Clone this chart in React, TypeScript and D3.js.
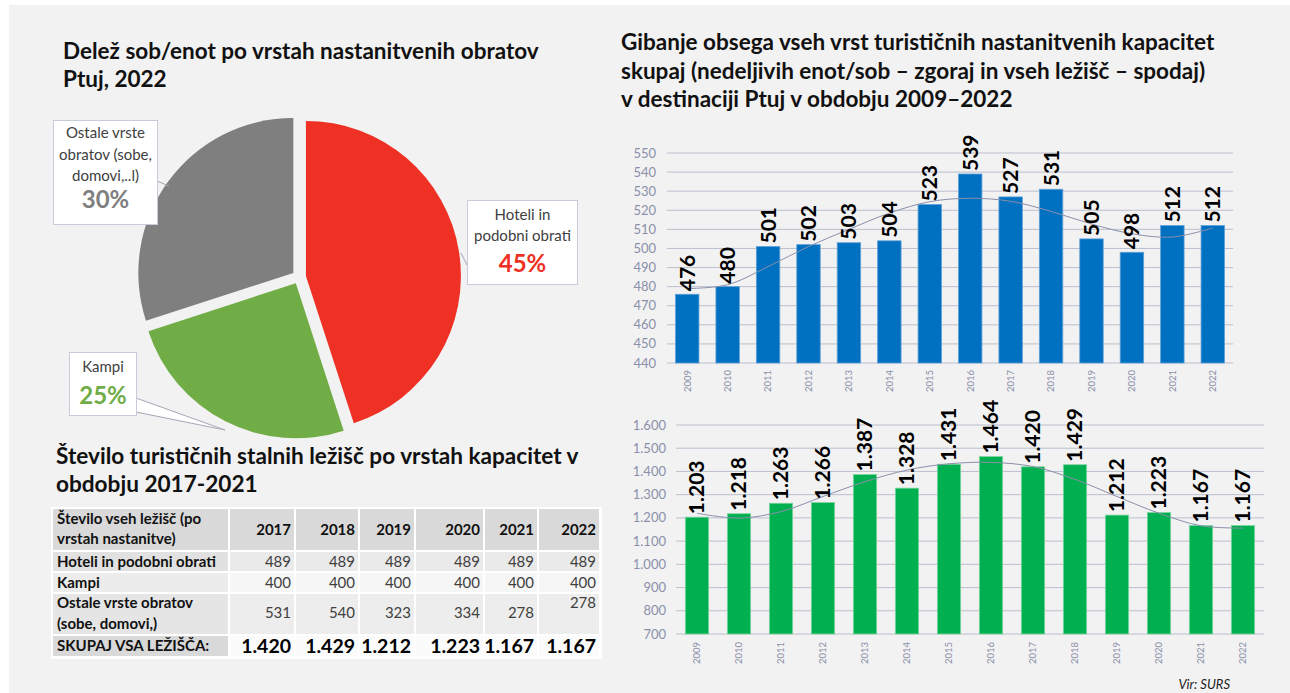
import React from "react";
import * as d3 from "d3";

// ---------- DATA ----------
const pieCategories = ["Hoteli in podobni obrati", "Kampi", "Ostale vrste obratov (sobe, domovi,..l)"];
const pieShares = [45, 25, 30];
const pieColors = ["#ee3124", "#70ad47", "#7f7f7f"];

const years = ["2009", "2010", "2011", "2012", "2013", "2014", "2015", "2016", "2017", "2018", "2019", "2020", "2021", "2022"];
const unitsValues = [476, 480, 501, 502, 503, 504, 523, 539, 527, 531, 505, 498, 512, 512];
const unitsTrend = [479, 481, 490.5, 501, 510, 518.5, 524.5, 526.3, 524.7, 519.4, 512.8, 507.7, 506, 510.7];
const unitsTicks = [440, 450, 460, 470, 480, 490, 500, 510, 520, 530, 540, 550];

const bedsValues = [1203, 1218, 1263, 1266, 1387, 1328, 1431, 1464, 1420, 1429, 1212, 1223, 1167, 1167];
const bedsTrend = [1220, 1199, 1227, 1292, 1356, 1406, 1433, 1439, 1421, 1366, 1292, 1220, 1166, 1156];
const bedsTicks = [700, 800, 900, 1000, 1100, 1200, 1300, 1400, 1500, 1600];

const tableYears = ["2017", "2018", "2019", "2020", "2021", "2022"];
const tableHeader = ["Število vseh ležišč  (po", "vrstah nastanitve)"];
const hotelBeds = [489, 489, 489, 489, 489, 489];
const campBeds = [400, 400, 400, 400, 400, 400];
const otherBeds = [531, 540, 323, 334, 278, 278];
const totalBeds = [1420, 1429, 1212, 1223, 1167, 1167];
const rowLabels = ["Hoteli in podobni obrati", "Kampi", "Ostale vrste obratov", "SKUPAJ VSA LEŽIŠČA:"];

// ---------- STYLE ----------
const FONT = "Lato, 'Open Sans', sans-serif";
const AXIS_COLOR = "#8a90aa";
const GRID_COLOR = "#bcbfcd";
const sl = d3.formatLocale({ decimal: ",", thousands: ".", grouping: [3], currency: ["", "€"] });
const fmt = sl.format(",d");

function Pie() {
  const cx = 299, cy = 277, r = 155, explode = 7;
  const arcs = d3.pie<number>().sort(null)(pieShares);
  const arcGen = d3.arc<d3.PieArcDatum<number>>().innerRadius(0).outerRadius(r);
  return (
    <g>
      {arcs.map((a, i) => {
        const mid = (a.startAngle + a.endAngle) / 2;
        const dx = Math.sin(mid) * explode, dy = -Math.cos(mid) * explode;
        return <path key={i} d={arcGen(a) || ""} transform={`translate(${cx + dx},${cy + dy})`} fill={pieColors[i]} />;
      })}
    </g>
  );
}

function PieLabels() {
  const labelStyle = { fontFamily: FONT, fontSize: 15, fill: "#404040" } as const;
  const pctStyle = { fontFamily: FONT, fontSize: 24, fontWeight: 700 } as const;
  return (
    <g>
      {/* Ostale */}
      <line x1={157} y1={181} x2={169} y2={186} stroke="#a6a6b8" strokeWidth={1} />
      <rect x={53.5} y={120.5} width={104} height={104} fill="#fff" stroke="#c9ccd8" />
      <text x={105.5} y={138} textAnchor="middle" style={labelStyle}>Ostale vrste</text>
      <text x={105.5} y={159.5} textAnchor="middle" style={labelStyle}>obratov (sobe,</text>
      <text x={105.5} y={181} textAnchor="middle" style={labelStyle}>domovi,..l)</text>
      <text x={105.5} y={208} textAnchor="middle" style={{ ...pctStyle, fill: pieColors[2] }}>{pieShares[2]}%</text>
      {/* Hoteli */}
      <line x1={461} y1={253} x2={467} y2={265} stroke="#a6a6b8" strokeWidth={1} />
      <rect x={467.5} y={200.5} width={110} height={84} fill="#fff" stroke="#c9ccd8" />
      <text x={522.5} y={220} textAnchor="middle" style={labelStyle}>Hoteli in</text>
      <text x={522.5} y={241} textAnchor="middle" style={labelStyle}>podobni obrati</text>
      <text x={522.5} y={272} textAnchor="middle" style={{ ...pctStyle, fill: pieColors[0] }}>{pieShares[0]}%</text>
      {/* Kampi */}
      <polygon points="136,398 225,430 136,412" fill="#fff" stroke="#a6a6b8" strokeWidth={1} />
      <rect x={69.5} y={352.5} width={67} height={63} fill="#fff" stroke="#c9ccd8" />
      <text x={103} y={372} textAnchor="middle" style={labelStyle}>Kampi</text>
      <text x={103} y={404} textAnchor="middle" style={{ ...pctStyle, fill: pieColors[1] }}>{pieShares[1]}%</text>
    </g>
  );
}

function Table() {
  const colEdges = [53, 229, 295, 359, 415, 484, 538, 600];
  const rowEdges = [509, 551, 572, 593, 635, 657];
  const gap = 2;
  const labelBg = ["#d9d9d9", "#e1e1e1", "#ececec", "#e5e5e5", "#d9d9d9"];
  const valueBg = ["#d9d9d9", "#eaeaea", "#f6f6f6", "#ededed", "#fbfbfb"];
  const rows = [hotelBeds, campBeds, otherBeds];
  const cells: JSX.Element[] = [];
  for (let ri = 0; ri < rowEdges.length - 1; ri++) {
    for (let ci = 0; ci < colEdges.length - 1; ci++) {
      cells.push(
        <rect key={`c${ri}-${ci}`} x={colEdges[ci] + (ci === 0 ? 0 : gap / 2)} y={rowEdges[ri] + (ri === 0 ? 0 : gap / 2)}
          width={colEdges[ci + 1] - colEdges[ci] - (ci === 0 ? gap / 2 : gap)}
          height={rowEdges[ri + 1] - rowEdges[ri] - (ri === 0 ? gap / 2 : gap)}
          fill={ci === 0 ? labelBg[ri] : valueBg[ri]} />
      );
    }
  }
  const bold = { fontFamily: FONT, fontSize: 15, fontWeight: 700, fill: "#111" } as const;
  const reg = { fontFamily: FONT, fontSize: 15, fill: "#404040" } as const;
  const rx = (ci: number) => colEdges[ci + 1] - 4;
  return (
    <g>
      <rect x={51} y={507} width={551} height={152} fill="#ffffff" />
      {cells}
      <text x={57} y={524} style={bold}>{tableHeader[0]}</text>
      <text x={57} y={544} style={bold}>{tableHeader[1]}</text>
      {tableYears.map((y, i) => (
        <text key={y} x={rx(i + 1)} y={535} textAnchor="end" style={bold}>{y}</text>
      ))}
      <text x={57} y={567} style={bold}>{rowLabels[0]}</text>
      <text x={57} y={587.5} style={bold}>{rowLabels[1]}</text>
      <text x={57} y={608} style={bold}>{rowLabels[2]}</text>
      <text x={57} y={629} style={bold}>(sobe, domovi,)</text>
      <text x={57} y={651} style={bold}>{rowLabels[3]}</text>
      {rows.map((vals, ri) =>
        vals.map((v, ci) => {
          let y = [567, 587.5, 618][ri];
          if (ri === 2 && ci === 5) y = 608;
          return <text key={`v${ri}-${ci}`} x={rx(ci + 1)} y={y} textAnchor="end" style={reg}>{fmt(v)}</text>;
        })
      )}
      {totalBeds.map((v, ci) => (
        <text key={`t${ci}`} x={rx(ci + 1)} y={653} textAnchor="end" style={{ ...bold, fontSize: 19.5, fill: "#000" }}>{fmt(v)}</text>
      ))}
    </g>
  );
}

type BarProps = {
  values: number[]; trend: number[]; ticks: number[];
  x0: number; x1: number; yTop: number; yBottom: number;
  domain: [number, number]; color: string; stroke: string;
  paddingInner: number; labelTickX: number; xLabelY: number;
};

function BarChart(p: BarProps) {
  const x = d3.scaleBand<string>().domain(years).range([p.x0, p.x1]).paddingInner(p.paddingInner).paddingOuter(p.paddingInner / 2);
  const y = d3.scaleLinear().domain(p.domain).range([p.yBottom, p.yTop]);
  const cx = (yr: string) => (x(yr) || 0) + x.bandwidth() / 2;
  const line = d3.line<number>().x((_, i) => cx(years[i])).y((d) => y(d)).curve(d3.curveCatmullRom.alpha(0.5));
  return (
    <g>
      {p.ticks.map((t) => (
        <g key={t}>
          <line x1={p.x0} x2={p.x1} y1={y(t)} y2={y(t)} stroke={GRID_COLOR} strokeWidth={1} />
          <text x={p.labelTickX} y={y(t) + 4.5} textAnchor="end" style={{ fontFamily: FONT, fontSize: 13, fill: AXIS_COLOR }}>{fmt(t)}</text>
        </g>
      ))}
      {p.values.map((v, i) => (
        <rect key={years[i]} x={x(years[i])} y={y(v)} width={x.bandwidth()} height={y(p.domain[0]) - y(v)}
          fill={p.color} stroke={p.stroke} strokeWidth={0.8} />
      ))}
      <path d={line(p.trend) || ""} fill="none" stroke="#8a8fab" strokeWidth={1} />
      {p.values.map((v, i) => {
        const xx = cx(years[i]) + 7.5;
        const yy = y(v) - 3;
        return (
          <text key={`l${i}`} x={xx} y={yy} transform={`rotate(-90 ${xx} ${yy})`}
            style={{ fontFamily: FONT, fontSize: 21, fontWeight: 700, fill: "#000" }}>{fmt(v)}</text>
        );
      })}
      {years.map((yr) => {
        const xx = cx(yr) + 3.3;
        const yy = p.xLabelY;
        return (
          <text key={`x${yr}`} x={xx} y={yy} transform={`rotate(-90 ${xx} ${yy})`} textAnchor="end"
            style={{ fontFamily: FONT, fontSize: 9.5, fill: AXIS_COLOR }}>{yr}</text>
        );
      })}
    </g>
  );
}

export default function App() {
  const title = { fontFamily: FONT, fontWeight: 700, fontSize: 22.5, fill: "#111" } as const;
  return (
    <svg width={1290} height={693} style={{ position: "absolute", left: 0, top: 0, display: "block" }}>
      <rect x={0} y={0} width={1290} height={693} fill="#ffffff" />
      <rect x={9} y={5} width={1281} height={688} fill="#f2f2f2" />
      <text x={63} y={59} style={title}>Delež sob/enot po vrstah nastanitvenih obratov</text>
      <text x={63} y={87} style={title}>Ptuj, 2022</text>
      <Pie />
      <PieLabels />
      <text x={56} y={464} style={{ ...title, fontSize: 22.6 }}>Število turističnih stalnih ležišč po vrstah kapacitet v</text>
      <text x={56} y={492} style={{ ...title, fontSize: 22.6 }}>obdobju 2017-2021</text>
      <Table />
      <text x={621} y={50} style={title}>Gibanje obsega vseh vrst turističnih nastanitvenih kapacitet</text>
      <text x={621} y={79} style={title}>skupaj (nedeljivih enot/sob – zgoraj in vseh ležišč – spodaj)</text>
      <text x={621} y={107} style={title}>v destinaciji Ptuj v obdobju 2009–2022</text>
      <BarChart values={unitsValues} trend={unitsTrend} ticks={unitsTicks} x0={667} x1={1233} yTop={153} yBottom={363}
        domain={[440, 550]} color="#0070c0" stroke="#5fa0d8" paddingInner={0.42} labelTickX={656} xLabelY={370} />
      <BarChart values={bedsValues} trend={bedsTrend} ticks={bedsTicks} x0={676} x1={1264} yTop={425} yBottom={634}
        domain={[700, 1600]} color="#00b050" stroke="#7fd4a0" paddingInner={0.445} labelTickX={666} xLabelY={642} />
      <text x={1230} y={689} textAnchor="end" style={{ fontFamily: FONT, fontStyle: "italic", fontSize: 13, fill: "#222" }}>Vir: SURS</text>
    </svg>
  );
}
